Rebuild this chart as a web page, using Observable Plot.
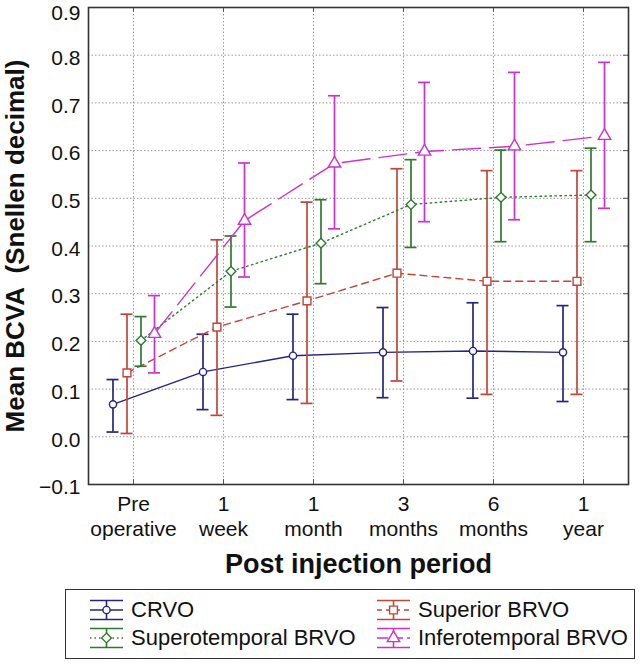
<!DOCTYPE html>
<html>
<head>
<meta charset="utf-8">
<script src="https://cdn.jsdelivr.net/npm/d3@7"></script>
<script src="https://cdn.jsdelivr.net/npm/@observablehq/plot@0.6"></script>
<style>
  html, body { margin: 0; padding: 0; background: #fff; }
  #wrap { position: relative; width: 640px; height: 664px; font-family: "Liberation Sans", Arial, sans-serif; }
  #legend { position: absolute; left: 65px; top: 589px; width: 570px; height: 70px; border: 1.5px solid #333; box-sizing: border-box; }
  .item { position: absolute; height: 24px; display: flex; align-items: center; font-size: 22px; color: #111; white-space: nowrap; }
  .item svg { margin-right: 8px; }
</style>
</head>
<body>
<div id="wrap"><div id="chart"></div><div id="legend"></div></div>
<script>
const periods = ["Pre operative", "1 week", "1 month", "3 months", "6 months", "1 year"];
const periodLine1 = ["Pre", "1", "1", "3", "6", "1"];
const periodLine2 = ["operative", "week", "month", "months", "months", "year"];
const yTicks = [-0.1, 0.0, 0.1, 0.2, 0.3, 0.4, 0.5, 0.6, 0.7, 0.8];
const yTopTick = [0.9];
const yGrid = [0.0, 0.1, 0.2, 0.3, 0.4, 0.5, 0.6, 0.7, 0.8];

const seriesNames = ["CRVO", "Superior BRVO", "Superotemporal BRVO", "Inferotemporal BRVO"];

const crvoMean = [0.068, 0.136, 0.170, 0.177, 0.180, 0.177];
const crvoLow  = [0.010, 0.057, 0.078, 0.082, 0.081, 0.074];
const crvoHigh = [0.120, 0.215, 0.257, 0.271, 0.281, 0.275];

const superiorMean = [0.134, 0.230, 0.285, 0.343, 0.326, 0.326];
const superiorLow  = [0.007, 0.045, 0.070, 0.117, 0.089, 0.089];
const superiorHigh = [0.257, 0.413, 0.492, 0.562, 0.558, 0.558];

const superotempMean = [0.202, 0.347, 0.406, 0.487, 0.502, 0.507];
const superotempLow  = [0.148, 0.272, 0.321, 0.397, 0.409, 0.409];
const superotempHigh = [0.252, 0.421, 0.497, 0.581, 0.601, 0.605];

const inferotempMean = [0.216, 0.453, 0.573, 0.598, 0.609, 0.631];
const inferotempLow  = [0.134, 0.335, 0.436, 0.451, 0.455, 0.479];
const inferotempHigh = [0.296, 0.574, 0.715, 0.743, 0.764, 0.785];

const series = [
  {name: seriesNames[0], mean: crvoMean, low: crvoLow, high: crvoHigh, color: "#25257f", dash: null, legendDash: null, symbol: d3.symbolCircle, r: 3.6, dx: -20.5},
  {name: seriesNames[1], mean: superiorMean, low: superiorLow, high: superiorHigh, color: "#c2453a", dash: "7,5", legendDash: "5,4", symbol: d3.symbolSquare, r: 4.4, dx: -6.5},
  {name: seriesNames[2], mean: superotempMean, low: superotempLow, high: superotempHigh, color: "#2f7a2f", dash: "1.5,3.5", legendDash: "1.5,3", symbol: d3.symbolDiamond2, r: 4.4, dx: 7.5},
  {name: seriesNames[3], mean: inferotempMean, low: inferotempLow, high: inferotempHigh, color: "#cc33cc", dash: "28,9", legendDash: "11,4", symbol: d3.symbolTriangle, r: 4.6, dx: 21}
];

const idx = d3.range(periods.length);
const fmt = d3.format(".1f");

const marks = [
  Plot.gridY(yGrid, {stroke: "#9a9a9a", strokeOpacity: 1, strokeDasharray: "1.5,2"}),
  Plot.gridX(periods, {stroke: "#9a9a9a", strokeOpacity: 1, strokeDasharray: "1.5,2"}),
  Plot.tickY(yGrid, {x: () => periods[periods.length - 1], y: d => d, insetLeft: 85, stroke: "#555"}),
  Plot.tickX(periods, {x: d => d, insetBottom: 472, stroke: "#555"}),
  Plot.tickX(periods, {x: d => d, insetTop: 472, stroke: "#555"})
];

for (const s of series) {
  marks.push(
    Plot.line(idx, {x: i => periods[i], y: i => s.mean[i], dx: s.dx, stroke: s.color, strokeWidth: 1.4, strokeDasharray: s.dash}),
    Plot.ruleX(idx, {x: i => periods[i], y1: i => s.low[i], y2: i => s.high[i], dx: s.dx, stroke: s.color, strokeWidth: 1.7}),
    Plot.tickY(idx, {x: i => periods[i], y: i => s.low[i], dx: s.dx, insetLeft: 39, insetRight: 39, stroke: s.color, strokeWidth: 1.7}),
    Plot.tickY(idx, {x: i => periods[i], y: i => s.high[i], dx: s.dx, insetLeft: 39, insetRight: 39, stroke: s.color, strokeWidth: 1.7}),
    Plot.dot(idx, {x: i => periods[i], y: i => s.mean[i], dx: s.dx, symbol: s.symbol, r: s.r, fill: "white", stroke: s.color, strokeWidth: 1.4})
  );
}

marks.push(
  Plot.frame({stroke: "#333", strokeWidth: 1.6}),
  Plot.text(yTicks, {y: d => d, text: d => fmt(d), frameAnchor: "left", textAnchor: "end", dx: -8, dy: 3, fontSize: 21, fill: "#111"}),
  Plot.text(yTopTick, {y: d => d, text: d => fmt(d), frameAnchor: "left", textAnchor: "end", lineAnchor: "bottom", dx: -8, dy: 12, fontSize: 21, fill: "#111"}),
  Plot.text(idx, {x: i => periods[i], text: i => periodLine1[i], frameAnchor: "bottom", lineAnchor: "bottom", dy: 26, fontSize: 21, fill: "#111"}),
  Plot.text(idx, {x: i => periods[i], text: i => periodLine2[i], frameAnchor: "bottom", lineAnchor: "bottom", dy: 51, fontSize: 21, fill: "#111"}),
  Plot.text(["Post injection period"], {text: d => d, frameAnchor: "bottom", lineAnchor: "bottom", dy: 88, fontSize: 27, fontWeight: "bold", fill: "#111"}),
  Plot.text(["Mean BCVA  (Snellen decimal)"], {text: d => d, frameAnchor: "left", textAnchor: "middle", lineAnchor: "middle", dx: -73, rotate: -90, fontSize: 26, fontWeight: "bold", fill: "#111"})
);

const chart = Plot.plot({
  width: 640,
  height: 580,
  marginTop: 7,
  marginBottom: 96,
  marginLeft: 88,
  marginRight: 12,
  style: {fontFamily: "'Liberation Sans', Arial, sans-serif", background: "white", overflow: "visible"},
  x: {type: "band", domain: periods, padding: 0, axis: null},
  y: {domain: [-0.1, 0.9], axis: null},
  marks
});
document.getElementById("chart").appendChild(chart);

// Legend
const legend = document.getElementById("legend");
const positions = [
  {left: 24, top: 8},
  {left: 311, top: 8},
  {left: 24, top: 36},
  {left: 311, top: 36}
];
series.forEach((s, k) => {
  const div = document.createElement("div");
  div.className = "item";
  div.style.left = positions[k].left + "px";
  div.style.top = positions[k].top + "px";
  const svg = d3.create("svg").attr("width", 33).attr("height", 22);
  const c = s.color;
  svg.append("line").attr("x1", 0).attr("x2", 33).attr("y1", 1.5).attr("y2", 1.5).attr("stroke", c).attr("stroke-width", 1.6);
  svg.append("line").attr("x1", 0).attr("x2", 33).attr("y1", 20.5).attr("y2", 20.5).attr("stroke", c).attr("stroke-width", 1.6);
  svg.append("line").attr("x1", 16.5).attr("x2", 16.5).attr("y1", 1.5).attr("y2", 20.5).attr("stroke", c).attr("stroke-width", 1.6);
  svg.append("line").attr("x1", 0).attr("x2", 33).attr("y1", 11).attr("y2", 11).attr("stroke", c).attr("stroke-width", 1.4)
    .attr("stroke-dasharray", s.legendDash);
  svg.append("path").attr("d", d3.symbol(s.symbol, Math.PI * s.r * s.r))
    .attr("transform", "translate(16.5,11)").attr("fill", "white").attr("stroke", c).attr("stroke-width", 1.4);
  div.appendChild(svg.node());
  const span = document.createElement("span");
  span.textContent = s.name;
  div.appendChild(span);
  legend.appendChild(div);
});
</script>
</body>
</html>
